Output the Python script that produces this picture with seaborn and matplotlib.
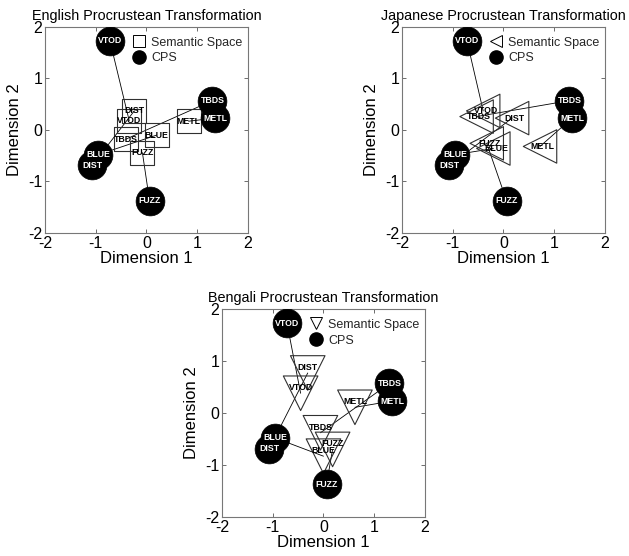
import matplotlib
matplotlib.use("Agg")
import matplotlib.pyplot as plt
import seaborn as sns
import pandas as pd
from matplotlib.lines import Line2D

items = ["VTOD", "TBDS", "METL", "BLUE", "DIST", "FUZZ"]

# CPS coordinates (same in every panel)
cps_x = [-0.72, 1.30, 1.35, -0.95, -1.07, 0.06]
cps_y = [1.73, 0.57, 0.23, -0.48, -0.69, -1.37]

# Semantic space coordinates per language
eng_x = [-0.34, -0.41, 0.83, 0.20, -0.24, -0.08]
eng_y = [0.18, -0.18, 0.17, -0.10, 0.37, -0.44]

jpn_x = [-0.40, -0.53, 0.72, -0.20, 0.17, -0.33]
jpn_y = [0.37, 0.26, -0.32, -0.36, 0.23, -0.26]

ben_x = [-0.45, -0.06, 0.62, 0.00, -0.31, 0.18]
ben_y = [0.38, -0.38, 0.11, -0.83, 0.77, -0.70]

titles = ["English Procrustean Transformation",
          "Japanese Procrustean Transformation",
          "Bengali Procrustean Transformation"]
legend_labels = ["Semantic Space", "CPS"]
tick_vals = [-2, -1, 0, 1, 2]

sns.set_theme(style="white")
plt.rcParams["font.family"] = ["Liberation Sans", "DejaVu Sans"]
plt.rcParams["axes.unicode_minus"] = False

fig = plt.figure(figsize=(6.29, 5.56), dpi=100)
positions = [
    [0.0715, 0.581, 0.3227, 0.3705],
    [0.6391, 0.581, 0.3227, 0.3705],
    [0.3529, 0.0701, 0.3227, 0.3741],
]
markers = ["s", "<", "v"]
msizes = [300, 580, 620]
label_offsets = [(0, 0), (2, 0), (0, 4)]
sem_sets = [(eng_x, eng_y), (jpn_x, jpn_y), (ben_x, ben_y)]

for k in range(3):
    ax = fig.add_axes(positions[k])
    sx, sy = sem_sets[k]
    df_sem = pd.DataFrame({"x": sx, "y": sy, "item": items})
    df_cps = pd.DataFrame({"x": cps_x, "y": cps_y, "item": items})
    # connecting lines
    for i in range(len(items)):
        ax.plot([sx[i], cps_x[i]], [sy[i], cps_y[i]], color="black", lw=0.6, zorder=1)
    sns.scatterplot(data=df_sem, x="x", y="y", marker=markers[k], s=msizes[k],
                    facecolor="none", edgecolor="#303030", linewidth=0.8,
                    ax=ax, zorder=2, legend=False)
    sns.scatterplot(data=df_cps, x="x", y="y", marker="o", s=430,
                    color="black", edgecolor="black", linewidth=0.5,
                    ax=ax, zorder=3, legend=False)
    for i, name in enumerate(items):
        ax.annotate(name, (sx[i], sy[i]), xytext=label_offsets[k], textcoords="offset points",
                    ha="center", va="center", fontsize=6.3, fontweight="bold",
                    color="black", zorder=4)
        ax.text(cps_x[i], cps_y[i], name, ha="center", va="center", fontsize=6.3,
                fontweight="bold", color="white", zorder=5)
    ax.set_xlim(-2, 2)
    ax.set_ylim(-2, 2)
    ax.set_xticks(tick_vals)
    ax.set_yticks(tick_vals)
    ax.set_xticklabels([str(v) for v in tick_vals])
    ax.set_yticklabels([str(v) for v in tick_vals])
    ax.tick_params(direction="in", length=3, width=0.6, color="#555555",
                   labelsize=11.5, pad=2, top=True, right=True,
                   bottom=True, left=True, labelcolor="black")
    for sp in ax.spines.values():
        sp.set_visible(True)
        sp.set_color("#777777")
        sp.set_linewidth(0.8)
    ax.set_xlabel("Dimension 1", fontsize=12, labelpad=0, color="black")
    ax.set_ylabel("Dimension 2", fontsize=12, labelpad=4, color="black")
    ax.set_title(titles[k], fontsize=10.4, pad=5, color="black")
    handles = [
        Line2D([], [], marker=markers[k], linestyle="none", markersize=9 if k else 8,
               markerfacecolor="none", markeredgecolor="black", markeredgewidth=0.7),
        Line2D([], [], marker="o", linestyle="none", markersize=9.5,
               markerfacecolor="black", markeredgecolor="black"),
    ]
    ax.legend(handles, legend_labels, loc="upper right", bbox_to_anchor=(0.985, 0.965),
              frameon=False, fontsize=9, handletextpad=0.4, borderaxespad=0,
              labelspacing=0.3, handlelength=1.2, borderpad=0.2)

fig.savefig("out.png", dpi=100)
